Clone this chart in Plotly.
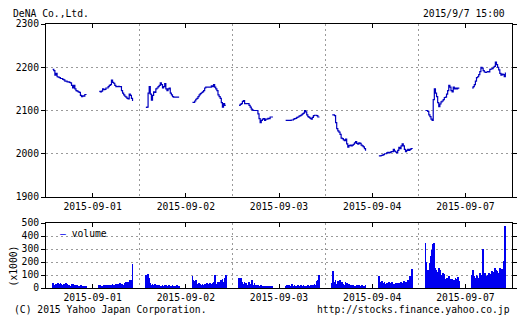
import plotly.graph_objects as go

# ---- data ----
dates = ["2015-09-01", "2015-09-02", "2015-09-03", "2015-09-04", "2015-09-07"]

# prices every 5 min; morning 9:00-11:30, afternoon 12:30-15:00
price_am = [
    [2195, 2192, 2182, 2186, 2178, 2177, 2176, 2174, 2174, 2172, 2171, 2168, 2168, 2166, 2166, 2165,
     2164, 2158, 2152, 2158, 2150, 2146, 2145, 2143, 2142, 2135, 2132, 2134, 2133, 2137, 2136],
    [2107, 2108, 2140, 2155, 2138, 2124, 2135, 2143, 2142, 2150, 2152, 2155, 2158, 2164, 2160, 2152,
     2155, 2162, 2150, 2146, 2150, 2152, 2140, 2136, 2132, 2131, 2131, 2131, 2131, 2131, 2131],
    [2112, 2114, 2116, 2121, 2123, 2116, 2116, 2116, 2116, 2112, 2108, 2103, 2101, 2100, 2100, 2100,
     2100, 2092, 2081, 2072, 2077, 2080, 2081, 2077, 2080, 2080, 2082, 2081, 2085, 2085, 2084],
    [2090, 2090, 2088, 2072, 2058, 2053, 2050, 2045, 2036, 2035, 2032, 2030, 2034, 2023, 2015, 2019,
     2020, 2018, 2020, 2022, 2025, 2028, 2024, 2022, 2025, 2024, 2020, 2018, 2016, 2012, 2007],
    [2100, 2100, 2098, 2090, 2086, 2080, 2077, 2125, 2150, 2140, 2132, 2118, 2109, 2115, 2120, 2122,
     2125, 2130, 2131, 2138, 2146, 2158, 2154, 2146, 2143, 2154, 2150, 2152, 2150, 2152, 2150],
]
price_pm = [
    [2144, 2143, 2145, 2150, 2148, 2149, 2152, 2152, 2155, 2158, 2160, 2170, 2165, 2163, 2158, 2155,
     2155, 2156, 2155, 2155, 2146, 2140, 2136, 2133, 2131, 2128, 2127, 2138, 2135, 2128, 2122],
    [2119, 2119, 2122, 2126, 2128, 2132, 2136, 2139, 2141, 2143, 2146, 2152, 2154, 2154, 2154, 2154,
     2154, 2157, 2155, 2160, 2154, 2150, 2146, 2136, 2132, 2128, 2118, 2108, 2116, 2112, 2112],
    [2077, 2077, 2077, 2077, 2077, 2078, 2078, 2080, 2081, 2082, 2084, 2085, 2087, 2088, 2090, 2092,
     2094, 2100, 2097, 2090, 2086, 2084, 2082, 2080, 2084, 2088, 2089, 2089, 2088, 2085, 2084],
    [1995, 1995, 1996, 1997, 1998, 2000, 2000, 2002, 2003, 2002, 2003, 2005, 2005, 2010, 2006, 2004,
     2002, 2008, 2015, 2012, 2018, 2023, 2018, 2010, 2005, 2008, 2010, 2008, 2010, 2012, 2011],
    [2152, 2155, 2160, 2168, 2176, 2178, 2183, 2190, 2200, 2198, 2192, 2189, 2188, 2189, 2190, 2189,
     2195, 2196, 2197, 2200, 2202, 2212, 2206, 2200, 2194, 2186, 2182, 2184, 2183, 2178, 2188],
]

# volume (x1000 shares) every 5 min
volume_am = [
    [35, 20, 18, 30, 15, 35, 32, 38, 28, 25, 30, 22, 35, 30, 20, 25,
     18, 28, 30, 22, 15, 25, 20, 15, 18, 22, 20, 12, 15, 18, 10],
    [100, 30, 105, 75, 40, 25, 30, 20, 28, 22, 18, 25, 20, 15, 18, 22,
     15, 20, 25, 18, 15, 20, 18, 15, 22, 15, 18, 12, 20, 15, 18],
    [80, 70, 75, 45, 30, 50, 35, 25, 20, 45, 30, 20, 60, 25, 35, 20,
     15, 25, 12, 18, 20, 15, 10, 12, 15, 10, 12, 8, 10, 12, 10],
    [40, 128, 50, 65, 30, 55, 40, 60, 35, 45, 30, 25, 50, 35, 20, 30,
     25, 15, 20, 25, 18, 15, 20, 15, 25, 18, 15, 20, 12, 18, 25],
    [346, 200, 141, 115, 192, 250, 295, 338, 346, 154, 141, 120, 154, 141, 103, 90,
     115, 110, 69, 80, 77, 90, 64, 70, 69, 60, 64, 77, 70, 85, 51],
]
volume_pm = [
    [20, 25, 18, 15, 22, 20, 18, 25, 15, 20, 25, 22, 30, 20, 25, 28,
     22, 30, 25, 35, 28, 30, 25, 40, 45, 35, 50, 38, 60, 62, 185],
    [92, 60, 55, 58, 30, 25, 35, 30, 20, 28, 25, 30, 22, 35, 30, 25,
     40, 30, 35, 45, 100, 30, 25, 45, 50, 35, 60, 70, 50, 75, 97],
    [10, 20, 15, 25, 12, 18, 30, 15, 20, 10, 15, 22, 18, 12, 20, 15,
     25, 18, 12, 15, 20, 18, 15, 20, 25, 22, 30, 25, 55, 60, 100],
    [90, 40, 50, 55, 38, 45, 30, 35, 40, 50, 30, 35, 45, 25, 30, 35,
     40, 28, 35, 30, 45, 35, 40, 55, 50, 45, 60, 40, 95, 60, 146],
    [100, 141, 90, 77, 103, 95, 77, 115, 85, 103, 300, 95, 115, 90, 100, 115,
     77, 110, 128, 103, 120, 154, 141, 130, 115, 154, 140, 146, 141, 205, 474],
]

# ---- time axis: each trading day spans 8:30-15:30 (420 min) ----
DAY = 420
AM_START, PM_START, STEP = 30, 240, 5   # minutes after 8:30

px, py, vx, vy = [], [], [], []
for d in range(len(dates)):
    for start, prices, vols in ((AM_START, price_am[d], volume_am[d]),
                                (PM_START, price_pm[d], volume_pm[d])):
        xs = [d * DAY + start + STEP * i for i in range(len(prices))]
        px += xs + [None]
        py += prices + [None]
        vx += xs
        vy += vols

centers = [d * DAY + DAY / 2 for d in range(len(dates))]
bounds = [d * DAY for d in range(1, len(dates))]

FONT = "DejaVu Sans Mono"
FS = 9.7
GRID = "#9a9a9a"
DASH = "2px,3px"

fig = go.Figure()
fig.add_trace(go.Scatter(x=px, y=py, mode="lines", line=dict(color="#0000c0", width=1.2, shape="hv"),
                         connectgaps=False, showlegend=False, xaxis="x", yaxis="y"))
fig.add_trace(go.Bar(x=vx, y=vy, width=3.6, marker=dict(color="#0000f0", line=dict(width=0)),
                     showlegend=False, xaxis="x2", yaxis="y2"))

xcommon = dict(range=[0, DAY * len(dates)], tickmode="array", tickvals=centers, ticktext=dates,
               ticks="inside", ticklen=4, tickcolor="black", showline=True, linecolor="black",
               linewidth=1, mirror="ticks", showgrid=False, zeroline=False,
               minor=dict(tickmode="array", tickvals=bounds, showgrid=True, gridcolor=GRID,
                          griddash=DASH, gridwidth=1, ticks=""),
               tickfont=dict(family=FONT, size=FS, color="black"))
ycommon = dict(ticks="outside", ticklen=4, tickcolor="black", showline=True, linecolor="black",
               linewidth=1, mirror="ticks", showgrid=True, gridcolor=GRID, griddash=DASH,
               zeroline=False, tickmode="linear", dtick=100,
               tickfont=dict(family=FONT, size=FS, color="black"))

fig.update_layout(
    width=527, height=324,
    margin=dict(l=46, r=10, t=24, b=36),
    paper_bgcolor="white", plot_bgcolor="white",
    font=dict(family=FONT, size=FS, color="black"),
    bargap=0,
    xaxis=dict(**xcommon, anchor="y", domain=[0, 1]),
    yaxis=dict(**ycommon, range=[1900, 2300], tick0=1900, domain=[0.3447, 1], anchor="x"),
    xaxis2=dict(**xcommon, anchor="y2", domain=[0, 1]),
    yaxis2=dict(**ycommon, range=[0, 500], tick0=0, domain=[0, 0.2462], anchor="x2"),
    annotations=[
        dict(text="DeNA Co.,Ltd.", xref="paper", yref="paper", x=-0.0743, y=1.038,
             xanchor="left", yanchor="middle", showarrow=False),
        dict(text="2015/9/7 15:00", xref="paper", yref="paper", x=0.9894, y=1.038,
             xanchor="right", yanchor="middle", showarrow=False),
        dict(text="(C) 2015 Yahoo Japan Corporation.", xref="paper", yref="paper", x=-0.0722,
             y=-0.0833, xanchor="left", yanchor="middle", showarrow=False),
        dict(text="http://stocks.finance.yahoo.co.jp", xref="paper", yref="paper", x=1.0,
             y=-0.0833, xanchor="right", yanchor="middle", showarrow=False),
        dict(text="(x1000)", xref="paper", yref="paper", x=-0.070, y=0.0833, textangle=-90,
             xanchor="center", yanchor="middle", showarrow=False),
        dict(text='<span style="color:#0000f0">—</span> volume', xref="paper", yref="paper",
             x=0.0255, y=0.2083, xanchor="left", yanchor="middle", showarrow=False),
    ],
)

fig.write_html("out.html")
